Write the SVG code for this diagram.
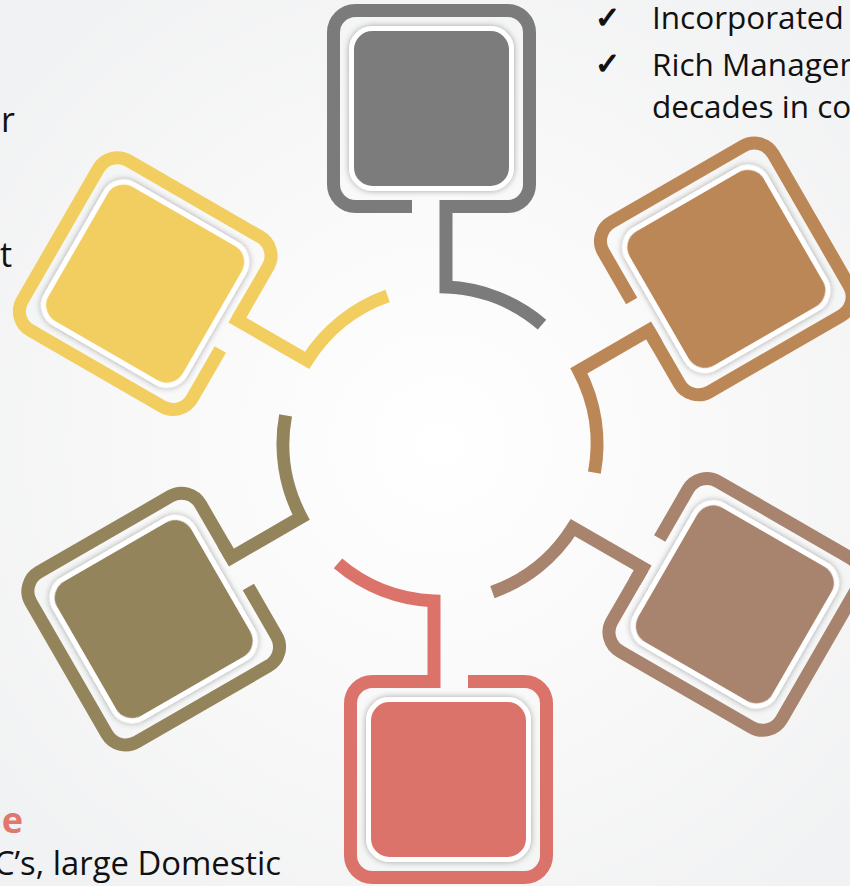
<svg xmlns="http://www.w3.org/2000/svg" width="850" height="886" viewBox="0 0 850 886">
  <defs>
    <radialGradient id="bg" cx="440" cy="444" r="560" gradientUnits="userSpaceOnUse">
      <stop offset="0" stop-color="#ffffff"/>
      <stop offset="0.55" stop-color="#f8f8f8"/>
      <stop offset="1" stop-color="#f1f2f3"/>
    </radialGradient>
    <filter id="sh" x="-20%" y="-20%" width="140%" height="140%">
      <feDropShadow dx="0" dy="0" stdDeviation="3" flood-color="#000" flood-opacity="0.35"/>
    </filter>
  </defs>
  <style>
    .frame{fill:none;stroke-width:13;stroke-linejoin:miter;stroke-linecap:butt}
    .conn{fill:none;stroke-width:13;stroke-linejoin:miter;stroke-linecap:butt}
    .inner{stroke:#ffffff;stroke-width:5;filter:url(#sh)}
    .txt{font-family:"Open Sans","Liberation Sans",sans-serif;fill:#111111}
    .chk{font-family:"DejaVu Sans",sans-serif;fill:#111111;stroke:#111111;stroke-width:1.3;font-size:30px}
  </style>

  <rect x="0" y="0" width="850" height="886" fill="url(#bg)"/>

  <!-- connectors: arc + stem for each node -->
  <g id="connectors">
    <path class="conn" stroke="#7b7b7b" d="M542 324.6 A157 157 0 0 0 446 287.1 L446 206.5 L462 206.5"/>
    <path class="conn" stroke="#bc8756" transform="rotate(60 440 444)" d="M542 324.6 A157 157 0 0 0 446 287.1 L446 206.5 L462 206.5"/>
    <path class="conn" stroke="#a8836e" transform="rotate(120 440 444)" d="M542 324.6 A157 157 0 0 0 446 287.1 L446 206.5 L462 206.5"/>
    <path class="conn" stroke="#db736b" transform="rotate(180 440 444)" d="M542 324.6 A157 157 0 0 0 446 287.1 L446 206.5 L462 206.5"/>
    <path class="conn" stroke="#93845c" transform="rotate(240 440 444)" d="M542 324.6 A157 157 0 0 0 446 287.1 L446 206.5 L462 206.5"/>
    <path class="conn" stroke="#f2cd5f" transform="rotate(300 440 444)" d="M542 324.6 A157 157 0 0 0 446 287.1 L446 206.5 L462 206.5"/>
  </g>

  <g id="node-gray">
    <path class="frame" stroke="#7b7b7b" d="M446 206.5 L507.5 206.5 A22 22 0 0 0 529.5 184.5 L529.5 32.5 A22 22 0 0 0 507.5 10.5 L355.5 10.5 A22 22 0 0 0 333.5 32.5 L333.5 184.5 A22 22 0 0 0 355.5 206.5 L412 206.5"/>
    <rect class="inner" fill="#7b7b7b" x="351.5" y="28.5" width="160" height="160" rx="21"/>
  </g>
  <g id="node-brown" transform="rotate(60 440 444)">
    <path class="frame" stroke="#bc8756" d="M446 206.5 L507.5 206.5 A22 22 0 0 0 529.5 184.5 L529.5 32.5 A22 22 0 0 0 507.5 10.5 L355.5 10.5 A22 22 0 0 0 333.5 32.5 L333.5 184.5 A22 22 0 0 0 355.5 206.5 L412 206.5"/>
    <rect class="inner" fill="#bc8756" x="351.5" y="28.5" width="160" height="160" rx="21"/>
  </g>
  <g id="node-taupe" transform="rotate(120 440 444)">
    <path class="frame" stroke="#a8836e" d="M446 206.5 L507.5 206.5 A22 22 0 0 0 529.5 184.5 L529.5 32.5 A22 22 0 0 0 507.5 10.5 L355.5 10.5 A22 22 0 0 0 333.5 32.5 L333.5 184.5 A22 22 0 0 0 355.5 206.5 L412 206.5"/>
    <rect class="inner" fill="#a8836e" x="351.5" y="28.5" width="160" height="160" rx="21"/>
  </g>
  <g id="node-red" transform="rotate(180 440 444)">
    <path class="frame" stroke="#db736b" d="M446 206.5 L507.5 206.5 A22 22 0 0 0 529.5 184.5 L529.5 32.5 A22 22 0 0 0 507.5 10.5 L355.5 10.5 A22 22 0 0 0 333.5 32.5 L333.5 184.5 A22 22 0 0 0 355.5 206.5 L412 206.5"/>
    <rect class="inner" fill="#db736b" x="351.5" y="28.5" width="160" height="160" rx="21"/>
  </g>
  <g id="node-olive" transform="rotate(240 440 444)">
    <path class="frame" stroke="#93845c" d="M446 206.5 L507.5 206.5 A22 22 0 0 0 529.5 184.5 L529.5 32.5 A22 22 0 0 0 507.5 10.5 L355.5 10.5 A22 22 0 0 0 333.5 32.5 L333.5 184.5 A22 22 0 0 0 355.5 206.5 L412 206.5"/>
    <rect class="inner" fill="#93845c" x="351.5" y="28.5" width="160" height="160" rx="21"/>
  </g>
  <g id="node-yellow" transform="rotate(300 440 444)">
    <path class="frame" stroke="#f2cd5f" d="M446 206.5 L507.5 206.5 A22 22 0 0 0 529.5 184.5 L529.5 32.5 A22 22 0 0 0 507.5 10.5 L355.5 10.5 A22 22 0 0 0 333.5 32.5 L333.5 184.5 A22 22 0 0 0 355.5 206.5 L412 206.5"/>
    <rect class="inner" fill="#f2cd5f" x="351.5" y="28.5" width="160" height="160" rx="21"/>
  </g>

  <!-- surrounding slide text -->
  <g id="text-top-right">
    <text class="chk" x="595" y="28">✓</text>
    <text class="chk" x="595" y="74">✓</text>
    <text class="txt" x="652" y="29" font-size="31.5">Incorporated</text>
    <text class="txt" x="652" y="76" font-size="31.5">Rich Managem</text>
    <text class="txt" x="652" y="118" font-size="31.5">decades in co</text>
  </g>
  <g id="text-left">
    <text class="txt" x="15" y="132" font-size="34" text-anchor="end">er</text>
    <text class="txt" x="12" y="267" font-size="34" text-anchor="end">t</text>
    <text class="txt" x="23" y="833" font-size="36" font-weight="bold" text-anchor="end" style="fill:#e0786d">le</text>
    <text class="txt" x="281" y="875" font-size="32.8" text-anchor="end">C’s, large Domestic</text>
  </g>
</svg>
